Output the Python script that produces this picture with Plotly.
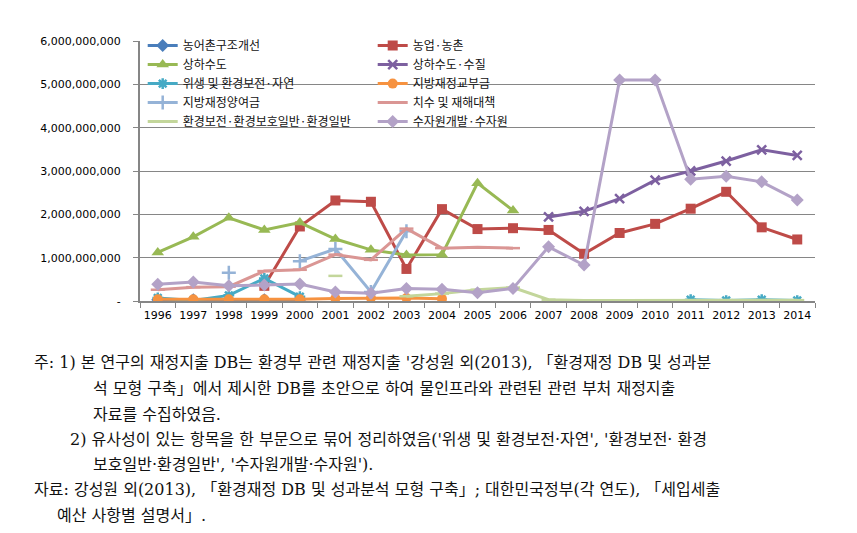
import plotly.graph_objects as go

# 연도 (category axis)
YEARS = ["1996", "1997", "1998", "1999", "2000", "2001", "2002", "2003", "2004", "2005",
         "2006", "2007", "2008", "2009", "2010", "2011", "2012", "2013", "2014"]

# values, in 10^9 won; None = no data
NONGEOCHON = [0.03, 0.03, 0.03, 0.03, 0.03, None, None, None, None, None,
              None, None, None, None, None, None, None, None, None]
NONGUP = [None, None, None, 0.35, 1.72, 2.32, 2.29, 0.74, 2.12, 1.66,
          1.68, 1.64, 1.09, 1.57, 1.78, 2.13, 2.52, 1.70, 1.42]
SANGHASUDO = [1.12, 1.48, 1.92, 1.64, 1.81, 1.43, 1.18, 1.06, 1.07, 2.72,
              2.09, None, None, None, None, None, None, None, None]
SANGHASUDO_SUJIL = [None, None, None, None, None, None, None, None, None, None,
                    None, 1.94, 2.07, 2.36, 2.79, 3.00, 3.23, 3.49, 3.36]
WISAENG = [0.07, 0.01, 0.13, 0.52, 0.10, None, None, None, None, None,
           None, None, None, None, None, 0.03, 0.01, 0.03, 0.01]
GYOBUGEUM = [0.04, 0.04, 0.04, 0.04, 0.04, 0.06, 0.07, 0.07, 0.05, None,
             None, None, None, None, None, None, None, None, None]
YANGYEOGEUM = [None, None, 0.65, None, 0.92, 1.20, 0.21, 1.61, None, None,
               None, None, None, None, None, None, None, None, None]
CHISU = [0.26, 0.32, 0.33, 0.69, 0.72, 1.07, 0.95, 1.67, 1.22, 1.24,
         1.22, None, None, None, None, None, None, None, None]
HWANGYEONG = [None, None, None, None, None, 0.58, None, 0.11, 0.17, 0.26,
              0.31, 0.03, 0.01, 0.01, 0.01, 0.02, 0.02, 0.02, 0.02]
SUJAWON = [0.385, 0.44, 0.35, 0.37, 0.39, 0.21, 0.18, 0.29, 0.27, 0.19,
           0.29, 1.25, 0.83, 5.10, 5.10, 2.81, 2.88, 2.75, 2.33]

Y_TICKS = [0, 1, 2, 3, 4, 5, 6]
Y_TICKTEXT = ["-", "1,000,000,000", "2,000,000,000", "3,000,000,000",
              "4,000,000,000", "5,000,000,000", "6,000,000,000"]

# (name, values, color, marker symbol, marker size)
SERIES = [
    ("농어촌구조개선", NONGEOCHON, "#4A7EBB", "diamond", 10),
    ("농업·농촌", NONGUP, "#BE4B48", "square", 10),
    ("상하수도", SANGHASUDO, "#98B954", "triangle-up", 11),
    ("상하수도·수질", SANGHASUDO_SUJIL, "#7D60A0", "x-thin", 9),
    ("위생 및 환경보전·자연", WISAENG, "#46AAC5", "asterisk", 9),
    ("지방재정교부금", GYOBUGEUM, "#F69240", "circle", 10),
    ("지방재정양여금", YANGYEOGEUM, "#95B3D7", "cross-thin", 10),
    ("치수 및 재해대책", CHISU, "#DA9694", "line-ew", 10),
    ("환경보전·환경보호일반·환경일반", HWANGYEONG, "#C3D69B", "line-ew", 10),
    ("수자원개발·수자원", SUJAWON, "#B3A2C7", "diamond", 10),
]

# note lines with their (left, middle) position on the page
NOTES = [
    (32, 362, "주: 1) 본 연구의 재정지출 DB는 환경부 관련 재정지출 '강성원 외(2013), 「환경재정 DB 및 성과분"),
    (91, 388, "석 모형 구축」에서 제시한 DB를 초안으로 하여 물인프라와 관련된 관련 부처 재정지출"),
    (91, 414, "자료를 수집하였음."),
    (68, 439, "2) 유사성이 있는 항목을 한 부문으로 묶어 정리하였음('위생 및 환경보전·자연', '환경보전· 환경"),
    (91, 464, "보호일반·환경일반', '수자원개발·수자원')."),
    (32, 489, "자료: 강성원 외(2013), 「환경재정 DB 및 성과분석 모형 구축」; 대한민국정부(각 연도), 「세입세출"),
    (55, 515, "예산 사항별 설명서」."),
]

OFF = 8  # default body margin of the html page
W, H = 857 - OFF, 533 - OFF
ML, MT = 140 - OFF, 41 - OFF
PW, PH = 675, 260
MR, MB = W - ML - PW, H - MT - PH

OPEN_SYMBOLS = {"x-thin", "asterisk", "cross-thin", "line-ew"}

fig = go.Figure()
for name, vals, color, symbol, size in SERIES:
    if symbol in OPEN_SYMBOLS:
        marker = dict(symbol=symbol, size=size, color=color,
                      line=dict(color=color, width=2.5))
    else:
        marker = dict(symbol=symbol, size=size, color=color,
                      line=dict(color=color, width=0))
    fig.add_trace(go.Scatter(
        x=YEARS, y=vals, name=name, mode="lines+markers",
        line=dict(color=color, width=3), marker=marker,
        connectgaps=False,
    ))

note_font = dict(family="DejaVu Serif, Noto Sans CJK KR", size=16, color="#111")
for px, py, text in NOTES:
    fig.add_annotation(
        x=(px - OFF - ML) / PW, y=(MT + PH - (py - OFF)) / PH,
        xref="paper", yref="paper",
        xanchor="left", yanchor="middle", showarrow=False, align="left",
        text=text, font=note_font,
    )

axis_grey = "#868686"
tick_font = dict(family="DejaVu Sans", size=11, color="#000")
fig.update_xaxes(
    type="category", range=[-0.5, 18.5], tickangle=0,
    showline=True, linecolor=axis_grey, linewidth=2,
    ticks="outside", tickson="boundaries", ticklen=5, tickcolor=axis_grey,
    ticklabelstandoff=3, showgrid=False, tickfont=tick_font,
)
fig.update_yaxes(
    range=[0, 6.0001], tickvals=Y_TICKS, ticktext=Y_TICKTEXT,
    showline=True, linecolor=axis_grey, linewidth=2,
    ticks="outside", ticklen=5, tickcolor=axis_grey, ticklabelstandoff=10,
    showgrid=True, gridcolor=axis_grey, gridwidth=1, zeroline=False,
    tickfont=tick_font,
)
fig.update_layout(
    width=W, height=H,
    margin=dict(l=ML, r=MR, t=MT, b=MB),
    paper_bgcolor="white", plot_bgcolor="white",
    showlegend=True,
    legend=dict(
        orientation="h", x=0.004, y=1.038, xanchor="left", yanchor="top",
        entrywidth=185, entrywidthmode="pixels",
        bgcolor="rgba(0,0,0,0)",
        font=dict(family="Noto Sans CJK KR", size=12, color="#111"),
    ),
)

fig.write_html("out.html")
